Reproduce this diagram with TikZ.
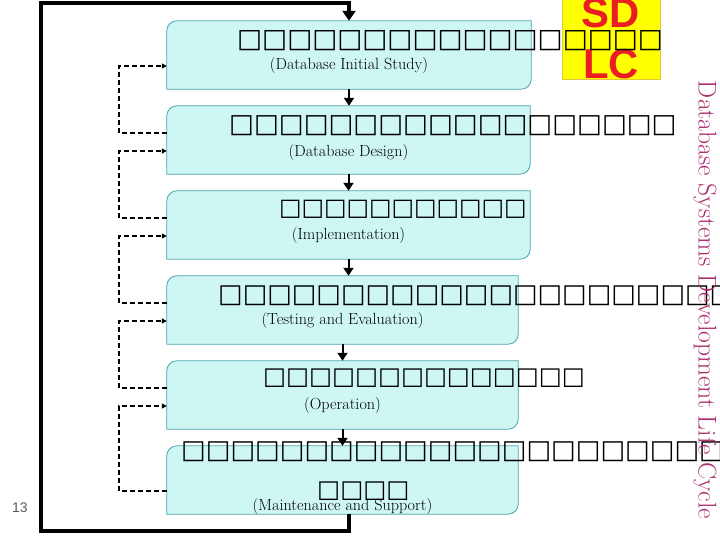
\documentclass[tikz,border=0pt]{standalone}
\usepackage{fontspec}
\usepackage{tikz,xcolor}
\usetikzlibrary{arrows.meta}
\newfontfamily\tofufont{DejaVu Sans}
\newfontfamily\arialfont{Liberation Sans}
\definecolor{stagefill}{RGB}{206,246,243}
\definecolor{stageedge}{RGB}{75,165,175}
\definecolor{sdlcred}{RGB}{235,30,35}
\definecolor{sdlcyellow}{RGB}{255,255,0}
\definecolor{sdlcedge}{RGB}{225,200,60}
\definecolor{titlepurple}{RGB}{170,45,110}
\definecolor{pagegray}{RGB}{90,90,90}
\tikzset{
  stagebox/.style={minimum height=68bp, inner sep=0pt},
  stageline/.style={draw=stageedge, fill=stagefill, line width=0.8bp},
  tofu/.style={anchor=west, inner sep=0pt, font=\tofufont\bfseries\fontsize{#1}{#1}\selectfont},
  tofu/.default=26,
  engl/.style={inner sep=0pt, font=\fontsize{16.2}{19}\selectfont},
  flow/.style={line width=2bp, -{Triangle[length=8bp,width=10bp]}},
  mainloop/.style={line width=4bp, -{Triangle[length=10bp,width=13bp]}},
  loopback/.style={line width=1.6bp, dash pattern=on 5bp off 3bp, -{Triangle[length=5bp,width=5bp]}},
  sdlcbox/.style={fill=sdlcyellow, draw=sdlcedge, line width=0.6bp, minimum width=98bp, minimum height=55bp, inner sep=0pt,
    align=center, text=sdlcred, font=\arialfont\bfseries\fontsize{42}{51}\selectfont},
  titletext/.style={inner sep=0pt, text=titlepurple, font=\fontsize{25.7}{28}\selectfont},
}
% box with two round corners
\newcommand{\stageshape}[1]{\draw[stageline] (#1.south west) -- ([yshift=-10bp]#1.north west) arc[start angle=180,end angle=90,radius=10bp] -- (#1.north east) -- ([yshift=10bp]#1.south east) arc[start angle=0,end angle=-90,radius=10bp] -- cycle;}
\begin{document}
\begin{tikzpicture}[x=1bp,y=1bp]
  \useasboundingbox (0,0) rectangle (720,540);
  \clip (0,0) rectangle (720,540);
  % Draw the stages
  \foreach \n/\cx/\cy/\w in {1/349/485/364, 2/348.5/400/363, 3/348.5/315/363, 4/342.5/230/351, 5/342.5/145/351, 6/342.5/60/351} {
    \node[stagebox, minimum width=\w bp] (s\n) at (\cx,\cy) {};
    \stageshape{s\n}
  }
  \foreach \i/\j in {1/2,2/3,3/4,4/5,5/6} {
    \draw[flow] (s\i.south) -- (s\i.south |- s\j.north);
  }
  % Draw the dashed loops
  \foreach \i/\j/\d in {1/2/7,2/3/7,3/4/7,4/5/7,5/6/-11} {
    \draw[loopback] ([yshift=\d bp]s\j.west) -- ++(-48,0) |- ([yshift=-11bp]s\i.west);
  }
  \coordinate (drop) at (349,9);
  \coordinate (rise) at (41,537);
  \draw[mainloop] (s6.south -| drop) -- (drop) -| (rise) -| (s1.north);
  \node[sdlcbox] (sdlc) at (611,501) {SD\\LC};
  % Thai titles (missing glyphs)
  \node[tofu=26.6] (t1) at (237,499) {□□□□□□□□□□□□□□□□□};
  \node[tofu=26.4] (t2) at (229,414) {□□□□□□□□□□□□□□□□□□};
  \node[tofu=23.9] (t3) at (279,331) {□□□□□□□□□□□};
  \node[tofu=26.1] (t4) at (218,244) {□□□□□□□□□□□□□□□□□□□□□□};
  \node[tofu=24.4] (t5) at (263,162) {□□□□□□□□□□□□□□};
  \node[tofu=26.2] (t6) at (181,88) {□□□□□□□□□□□□□□□□□□□□□□};
  \node[tofu=24.5] (t6b) at (317,49) {□□□□};
  \node[engl] (e1) at (s1.center |- 0,475) {(Database Initial Study)};
  \node[engl] (e2) at (s2.center |- 0,388) {(Database Design)};
  \node[engl] (e3) at (s3.center |- 0,305) {(Implementation)};
  \node[engl] (e4) at (s4.center |- 0,220) {(Testing and Evaluation)};
  \node[engl] (e5) at (s5.center |- 0,135) {(Operation)};
  \node[engl] (e6) at (s6.center |- 0,34) {(Maintenance and Support)};
  \node[titletext, rotate=-90] (title) at (705,240) {Database Systems Development Life Cycle};
  \node[inner sep=0pt, text=pagegray, font=\arialfont\fontsize{14}{16}\selectfont] (pagenum) at (20,32) {13};
\end{tikzpicture}
\end{document}
